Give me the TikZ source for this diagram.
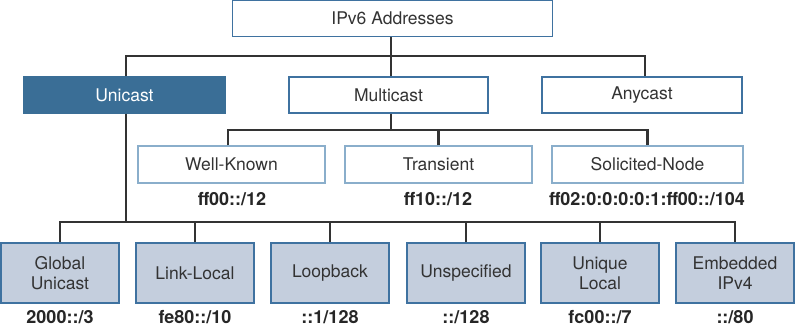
\documentclass[tikz,border=0pt]{standalone}
\usepackage{fontspec}
\setmainfont{TeX Gyre Heros}
\begin{document}
\begin{tikzpicture}[x=1pt,y=-1pt,
  conn/.style={draw=black!80, line width=2.4pt},
  topbox/.style={draw=boxblue, line width=1.1pt, fill=white, minimum height=36pt, inner sep=0pt, text=black!80, font=\fontsize{17.5}{20}\selectfont},
  midbox/.style={draw=lightblue, line width=1.1pt, fill=white, minimum height=37pt, inner sep=0pt, text=black!80, font=\fontsize{17.5}{20}\selectfont},
  botbox/.style={draw=boxblue, line width=1.1pt, fill=botfill, minimum width=118pt, minimum height=60pt, inner sep=0pt, align=center, text=black!80, font=\fontsize{17.5}{20}\selectfont},
  lbl/.style={inner sep=0pt, text=black!85, font=\bfseries\fontsize{18}{20}\selectfont}]
\definecolor{boxblue}{HTML}{3F72A0}
\definecolor{lightblue}{HTML}{8AAECB}
\definecolor{unifill}{HTML}{3A6E96}
\definecolor{botfill}{HTML}{C4CEDD}
\useasboundingbox (0,0) rectangle (795,327);
% buses
\coordinate (bus1) at (0,56);
\coordinate (bus2) at (0,130);
\coordinate (bus3) at (0,222);
% connectors (drawn first, boxes on top)
\coordinate (topc) at (391,36);
\coordinate (unic) at (126,113);
\coordinate (unit) at (126,77);
\coordinate (multic) at (391,77);
\coordinate (multib) at (391,113);
\coordinate (anyc) at (645,77);
% top
\node[topbox, minimum width=320pt] (top) at (392.5,18.5) {IPv6 Addresses};
\node[topbox, minimum width=201pt, fill=unifill, draw=unifill, text=white] (uni) at (124.5,95) {Unicast};
\node[topbox, minimum width=199pt] (multi) at (388.5,95) {Multicast};
\node[topbox, minimum width=200pt] (any) at (642,95) {Anycast};
% middle
\node[midbox, minimum width=187pt] (wk) at (231.5,164.5) {Well-Known};
\node[midbox, minimum width=187pt] (tr) at (438.5,164.5) {Transient};
\node[midbox, minimum width=191pt] (sn) at (647.5,164.5) {Solicited-Node};
\node[lbl] (wkl) at (232,199) {ff00::/12};
\node[lbl] (trl) at (438,199) {ff10::/12};
\node[lbl] (snl) at (647,199) {ff02:0:0:0:0:1:ff00::/104};
% bottom
\node[botbox] (gu) at (60,273) {Global\\Unicast};
\node[botbox] (ll) at (195,273) {Link-Local};
\node[botbox] (lb) at (330,273) {Loopback};
\node[botbox] (us) at (466,273) {Unspecified};
\node[botbox] (ul) at (600,273) {Unique\\Local};
\node[botbox] (em) at (735,273) {Embedded\\IPv4};
\node[lbl] (gul) at (60,317) {2000::/3};
\node[lbl] (lll) at (195,317) {fe80::/10};
\node[lbl] (lbl) at (330,317) {::1/128};
\node[lbl] (usl) at (466,317) {::/128};
\node[lbl] (ull) at (600,317) {fc00::/7};
\node[lbl] (eml) at (735,317) {::/80};
% connectors
\draw[conn] ([xshift=1.5pt]uni.north) |- ([xshift=3pt]any.north |- bus1) -- ([xshift=3pt]any.north);
\draw[conn] ([xshift=-1.5pt]top.south) -- ([xshift=-1.5pt]top.south |- bus1);
\draw[conn] ([xshift=2.5pt]multi.north) -- ([xshift=2.5pt]multi.north |- bus1);
\draw[conn] ([xshift=2.5pt]multi.south) -- ([xshift=2.5pt]multi.south |- bus2);
\draw[conn] ([xshift=-3.5pt]wk.north) |- (sn.north |- bus2) -- (sn.north);
\draw[conn] (tr.north) -- (tr.north |- bus2);
\draw[conn] ([xshift=1.5pt]uni.south) -- ([xshift=1.5pt]uni.south |- bus3);
\draw[conn] (gu.north) |- (em.north |- bus3) -- (em.north);
\draw[conn] (ll.north) -- (ll.north |- bus3);
\draw[conn] (lb.north) -- (lb.north |- bus3);
\draw[conn] (us.north) -- (us.north |- bus3);
\draw[conn] (ul.north) -- (ul.north |- bus3);
\end{tikzpicture}
\end{document}
